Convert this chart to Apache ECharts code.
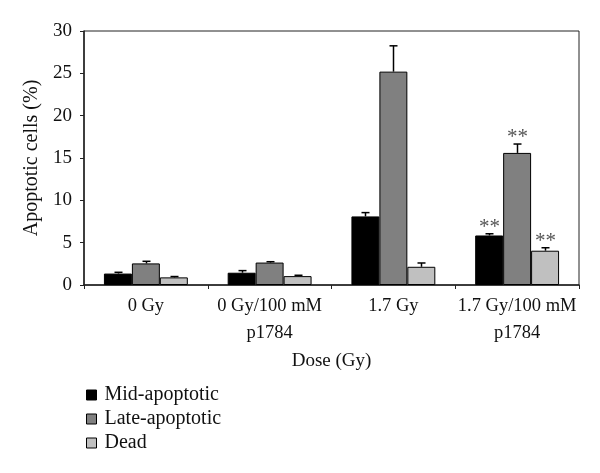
<!DOCTYPE html>
<html><head><meta charset="utf-8">
<script src="https://cdn.jsdelivr.net/npm/echarts@6/dist/echarts.min.js"></script>
<style>html,body{margin:0;padding:0;background:#fff}#c{width:600px;height:473px}</style>
</head><body><div id="c"></div>
<script>
const categories = ['0 Gy', '0 Gy/100 mM\np1784', '1.7 Gy', '1.7 Gy/100 mM\np1784'];
const seriesNames = ['Mid-apoptotic', 'Late-apoptotic', 'Dead'];
const mid = [1.35, 1.45, 8.1, 5.85];
const midErr = [0.15, 0.25, 0.45, 0.2];
const late = [2.55, 2.65, 25.2, 15.6];
const lateErr = [0.25, 0.1, 3.05, 1.05];
const dead = [0.9, 1.05, 2.15, 4.05];
const deadErr = [0.1, 0.1, 0.45, 0.35];
const midSig = [false, false, false, true];
const lateSig = [false, false, false, true];
const deadSig = [false, false, false, true];
const yTicks = [0, 5, 10, 15, 20, 25, 30];

const FONT = 'Liberation Serif';
const colors = ['#000000', '#808080', '#c0c0c0'];
const values = [mid, late, dead];
const errs = [midErr, lateErr, deadErr];
const sigs = [midSig, lateSig, deadSig];
const BAR_FRAC = 0.226;

const chart = echarts.init(document.getElementById('c'), null, {renderer: 'canvas'});

const barSeries = seriesNames.map((n, i) => ({
  name: n, type: 'bar', data: values[i], barWidth: (BAR_FRAC * 100) + '%', barGap: '0%',
  itemStyle: {color: colors[i], borderColor: '#000', borderWidth: 1},
  z: 2
}));

const errSeries = seriesNames.map((n, i) => ({
  type: 'custom', z: 5, silent: true,
  data: values[i].map((v, k) => [k, v, v + errs[i][k], sigs[i][k] ? 1 : 0]),
  renderItem: function (params, api) {
    const k = api.value(0);
    const band = api.size([1, 0])[0];
    const off = (i - 1) * band * BAR_FRAC;
    const p0 = api.coord([k, api.value(1)]);
    const p1 = api.coord([k, api.value(2)]);
    const x = Math.round(p0[0] + off) + 0.5;
    const children = [
      {type: 'line', shape: {x1: x, y1: p0[1], x2: x, y2: p1[1]}, style: {stroke: '#000', lineWidth: 1.5}},
      {type: 'line', shape: {x1: x - 4, y1: p1[1], x2: x + 4, y2: p1[1]}, style: {stroke: '#000', lineWidth: 1.5}}
    ];
    if (api.value(3)) {
      children.push({type: 'text', style: {text: '**', x: x, y: p1[1] + 4, align: 'center', verticalAlign: 'bottom',
        fill: '#555', font: '21px "' + FONT + '"'}});
    }
    return {type: 'group', children: children};
  }
}));

chart.setOption({
  animation: false,
  textStyle: {fontFamily: FONT, color: '#111'},
  grid: {left: 84, right: 21, top: 31, bottom: 188, show: true, borderColor: '#222', borderWidth: 1},
  legend: {
    data: seriesNames, orient: 'vertical', left: 81, top: 380, itemWidth: 10, itemHeight: 10, itemGap: 4,
    icon: 'rect', textStyle: {fontFamily: FONT, fontSize: 20, color: '#111', padding: [0, 0, 0, 3]},
    itemStyle: {borderColor: '#000', borderWidth: 1}
  },
  xAxis: {
    type: 'category', data: categories, name: 'Dose (Gy)', nameLocation: 'middle', nameGap: 61,
    nameTextStyle: {fontFamily: FONT, fontSize: 19, color: '#111'},
    axisLine: {lineStyle: {color: '#222', width: 1.5}},
    axisTick: {show: true, length: 4, lineStyle: {color: '#222'}},
    axisLabel: {interval: 0, fontFamily: FONT, fontSize: 18.5, color: '#111', margin: 8, lineHeight: 27}
  },
  yAxis: {
    type: 'value', min: 0, max: 30, interval: 5, name: 'Apoptotic cells (%)', nameLocation: 'middle', nameGap: 42,
    nameTextStyle: {fontFamily: FONT, fontSize: 20, color: '#111'},
    axisLine: {show: true, lineStyle: {color: '#222', width: 1.5}},
    axisTick: {show: true, length: 4, lineStyle: {color: '#222'}},
    splitLine: {show: false},
    axisLabel: {fontFamily: FONT, fontSize: 19, color: '#111', margin: 12,
      formatter: v => yTicks.includes(v) ? String(v) : ''}
  },
  series: [...barSeries, ...errSeries]
});
</script></body></html>
